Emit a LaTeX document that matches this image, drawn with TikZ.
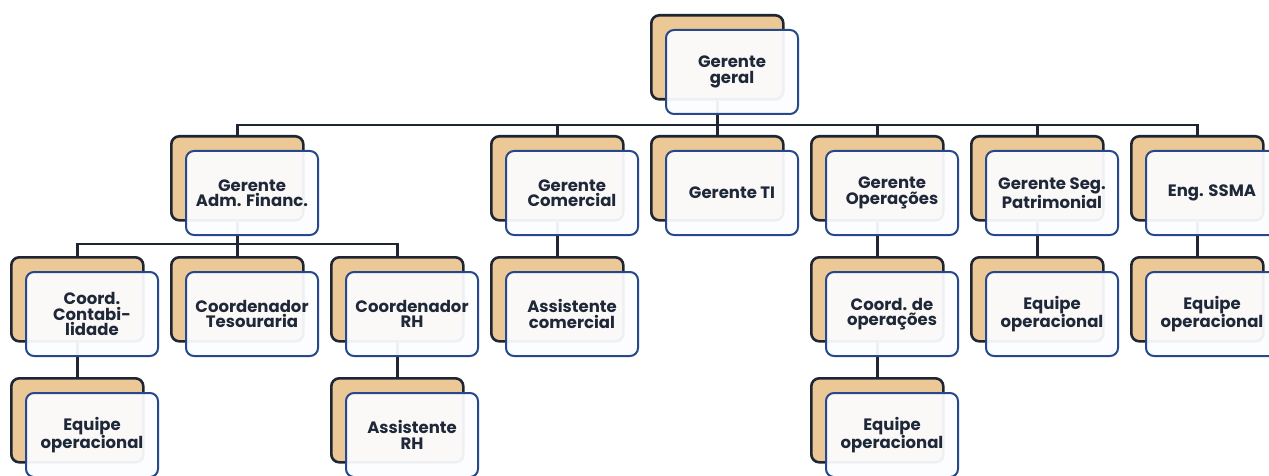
\documentclass[tikz,border=0pt]{standalone}
\usepackage{fontspec}
\setmainfont{Poppins}
\usetikzlibrary{calc}
\definecolor{tan}{HTML}{EBC896}
\definecolor{darkline}{HTML}{1E2533}
\definecolor{frontline}{HTML}{27498C}
\definecolor{frontfill}{HTML}{FCFDFF}
\definecolor{txt}{HTML}{1F2838}
\pgfdeclarelayer{bg}
\pgfsetlayers{bg,main}
\tikzset{
  backbox/.style={draw=darkline, fill=tan, line width=2.6pt, rounded corners=8pt,
    minimum width=132pt, minimum height=84pt, inner sep=0pt, anchor=north west},
  frontbox/.style={draw=frontline, fill=frontfill, fill opacity=0.94, draw opacity=1, text opacity=1,
    line width=2pt, rounded corners=8pt, minimum width=132pt, minimum height=84pt,
    inner sep=0pt, anchor=north west, text=txt, align=center,
    font=\fontsize{16.5}{15.5}\selectfont\bfseries},
  conn/.style={draw=darkline, line width=2.4pt}
}
\newcommand{\orgbox}[4]{%
  \node[backbox] (#1-b) at (#2,#3) {};
  \node[frontbox] (#1) at (#2+15,#3+15) {#4};
}
\begin{document}
\begin{tikzpicture}[x=1pt,y=-1pt]
\useasboundingbox (0,0) rectangle (1269,476);
\orgbox{gg}{650}{14}{Gerente\\geral}
\orgbox{adm}{170}{135}{Gerente\\Adm. Financ.}
\orgbox{com}{490}{135}{Gerente\\Comercial}
\orgbox{ti}{650}{135}{Gerente TI}
\orgbox{ope}{810}{135}{Gerente\\Operações}
\orgbox{seg}{970}{135}{Gerente Seg.\\Patrimonial}
\orgbox{ssma}{1130}{135}{Eng. SSMA}
\orgbox{cont}{10}{256}{Coord.\\Contabi-\\lidade}
\orgbox{tes}{170}{256}{Coordenador\\Tesouraria}
\orgbox{rh}{330}{256}{Coordenador\\RH}
\orgbox{ac}{490}{256}{Assistente\\comercial}
\orgbox{cop}{810}{256}{Coord. de\\operações}
\orgbox{eqseg}{970}{256}{Equipe\\operacional}
\orgbox{eqssma}{1130}{256}{Equipe\\operacional}
\orgbox{eqcont}{10}{377}{Equipe\\operacional}
\orgbox{arh}{330}{377}{Assistente\\RH}
\orgbox{eqop}{810}{377}{Equipe\\operacional}
\begin{pgfonlayer}{bg}
\draw[conn] (gg-b.south) -- ++(0,27) coordinate (bus1);
\draw[conn] (adm-b.north) -- ++(0,-10) -| (ssma-b.north);
\foreach \n in {com,ti,ope,seg} \draw[conn] (\n-b.north) -- ++(0,-10);
\draw[conn] (adm-b.south) -- ++(0,25);
\draw[conn] (cont-b.north) -- ++(0,-12) -| (rh-b.north);
\draw[conn] (tes-b.north) -- ++(0,-12);
\draw[conn] (com-b.south) -- (ac-b.north);
\draw[conn] (ope-b.south) -- (cop-b.north);
\draw[conn] (seg-b.south) -- (eqseg-b.north);
\draw[conn] (ssma-b.south) -- (eqssma-b.north);
\draw[conn] (cont-b.south) -- (eqcont-b.north);
\draw[conn] (rh-b.south) -- (arh-b.north);
\draw[conn] (cop-b.south) -- (eqop-b.north);
\end{pgfonlayer}
\end{tikzpicture}
\end{document}
